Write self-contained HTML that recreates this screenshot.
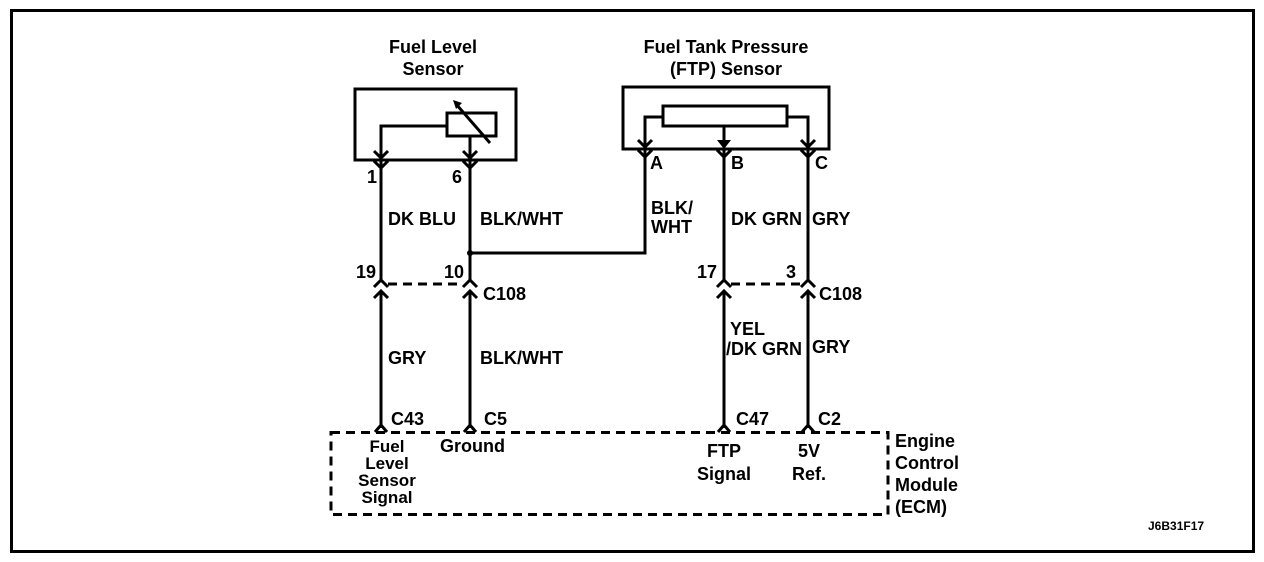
<!DOCTYPE html>
<html><head><style>
body{margin:0;background:#fff;}
svg{display:block}
text{font-family:"Liberation Sans",Arial,sans-serif;font-weight:bold;font-size:18px;fill:#000}
</style></head><body>
<svg width="1264" height="562" viewBox="0 0 1264 562" xmlns="http://www.w3.org/2000/svg">
<g fill="none" stroke="#000" stroke-width="3">
<rect x="11.5" y="10.5" width="1242" height="541"/>
</g>
<g fill="none" stroke="#000" stroke-width="3">
<rect x="355" y="89" width="161" height="71"/>
<rect x="447" y="113" width="49" height="23"/>
<polyline points="447,126 381,126 381,157"/>
<polyline points="374,151 381,158 388,151"/>
<line x1="470" y1="136" x2="470" y2="157"/>
<polyline points="463,151 470,158 477,151"/>
<line x1="456" y1="104" x2="490" y2="143"/>
<rect x="623" y="87" width="206" height="62"/>
<rect x="663" y="106" width="124" height="20"/>
<polyline points="663,117 645,117 645,146"/>
<polyline points="638,140 645,147 652,140"/>
<polyline points="787,117 808,117 808,146"/>
<polyline points="801,140 808,147 815,140"/>
<line x1="724" y1="126" x2="724" y2="140"/>
<polyline points="374,161 381,168 388,161"/>
<polyline points="463,161 470,168 477,161"/>
<polyline points="638,150 645,157 652,150"/>
<polyline points="717,150 724,157 731,150"/>
<polyline points="801,150 808,157 815,150"/>
<line x1="381" y1="161" x2="381" y2="281"/>
<line x1="470" y1="161" x2="470" y2="281"/>
<polyline points="645,150 645,253 470,253"/>
<line x1="724" y1="150" x2="724" y2="281"/>
<line x1="808" y1="150" x2="808" y2="281"/>
<polyline points="374,287 381,280 388,287"/>
<polyline points="463,287 470,280 477,287"/>
<polyline points="717,287 724,280 731,287"/>
<polyline points="801,287 808,280 815,287"/>
<line x1="388" y1="284" x2="463" y2="284" stroke-dasharray="9,6"/>
<line x1="731" y1="284" x2="801" y2="284" stroke-dasharray="9,6"/>
<polyline points="374,298 381,291 388,298"/>
<polyline points="463,298 470,291 477,298"/>
<polyline points="717,298 724,291 731,298"/>
<polyline points="801,298 808,291 815,298"/>
<line x1="381" y1="291" x2="381" y2="428"/>
<line x1="470" y1="291" x2="470" y2="428"/>
<line x1="724" y1="291" x2="724" y2="428"/>
<line x1="808" y1="291" x2="808" y2="428"/>
<polyline points="375,432 381,425 387,432"/>
<polyline points="464,432 470,425 476,432"/>
<polyline points="718,432 724,425 730,432"/>
<polyline points="802,432 808,425 814,432"/>
<rect x="331" y="432.5" width="557" height="82" stroke-dasharray="9,6"/>
</g>
<polygon points="717,140 731,140 724,149" fill="#000"/>
<polygon points="453,100 462,103 456,109" fill="#000"/>
<circle cx="470" cy="253" r="3" fill="#000"/>
<text x="433" y="53" text-anchor="middle">Fuel Level</text>
<text x="433" y="75" text-anchor="middle">Sensor</text>
<text x="726" y="53" text-anchor="middle">Fuel Tank Pressure</text>
<text x="726" y="75" text-anchor="middle">(FTP) Sensor</text>
<text x="367" y="183">1</text>
<text x="452" y="183">6</text>
<text x="650" y="169">A</text>
<text x="731" y="169">B</text>
<text x="815" y="169">C</text>
<text x="388" y="225">DK BLU</text>
<text x="480" y="225">BLK/WHT</text>
<text x="651" y="214">BLK/</text>
<text x="651" y="233">WHT</text>
<text x="731" y="225">DK GRN</text>
<text x="812" y="225">GRY</text>
<text x="356" y="278">19</text>
<text x="444" y="278">10</text>
<text x="697" y="278">17</text>
<text x="786" y="278">3</text>
<text x="483" y="300">C108</text>
<text x="819" y="300">C108</text>
<text x="388" y="364">GRY</text>
<text x="480" y="364">BLK/WHT</text>
<text x="730" y="335">YEL</text>
<text x="726" y="355">/DK GRN</text>
<text x="812" y="353">GRY</text>
<text x="391" y="425">C43</text>
<text x="484" y="425">C5</text>
<text x="736" y="425">C47</text>
<text x="818" y="425">C2</text>
<text x="387" y="452" text-anchor="middle" style="font-size:17px">Fuel</text>
<text x="387" y="469" text-anchor="middle" style="font-size:17px">Level</text>
<text x="387" y="486" text-anchor="middle" style="font-size:17px">Sensor</text>
<text x="387" y="503" text-anchor="middle" style="font-size:17px">Signal</text>
<text x="440" y="452">Ground</text>
<text x="724" y="457" text-anchor="middle">FTP</text>
<text x="724" y="480" text-anchor="middle">Signal</text>
<text x="809" y="457" text-anchor="middle">5V</text>
<text x="809" y="480" text-anchor="middle">Ref.</text>
<text x="895" y="447">Engine</text>
<text x="895" y="469">Control</text>
<text x="895" y="491">Module</text>
<text x="895" y="513">(ECM)</text>
<text x="1148" y="530" style="font-size:12px">J6B31F17</text>
</svg>
</body></html>
